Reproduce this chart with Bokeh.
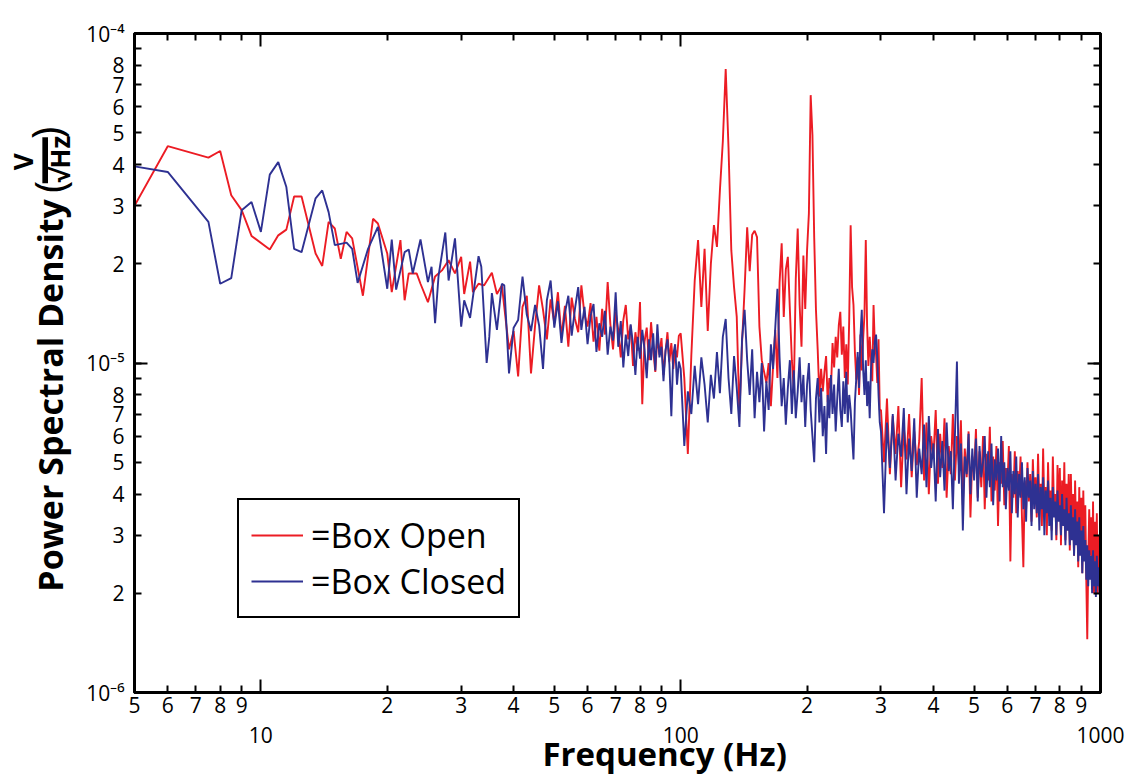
from math import pi

from bokeh.plotting import figure
from bokeh.layouts import row
from bokeh.core.properties import value
from bokeh.models import (ColumnDataSource, FixedTicker, CustomJSTickFormatter,
                          LogAxis, Legend, LegendItem)
from bokeh.embed import file_html
from bokeh.resources import INLINE

# Amplitude spectral density of the sensor output, in µV/√Hz,
# with the enclosure open and with it closed.

# ---- 5 to 39 Hz (fine resolution) ----
open_low_hz = [5.0, 6.0, 7.5, 8.0, 8.5, 9.0, 9.5, 10.5, 11.0, 11.5,
               12.0, 12.5, 13.5, 14.0, 14.5, 15.0, 15.5, 16.0, 16.5, 17.5,
               18.5, 19.0, 20.0, 20.5, 21.5, 22.0, 22.5, 23.5, 24.0, 25.0,
               26.0, 27.0, 28.0, 29.0, 30.0, 30.5, 31.5, 32.0, 33.0, 34.0,
               35.5, 36.5, 37.5, 38.0, 39.0]
open_low_uv = [30.0, 45.5, 42.0, 44.0, 32.3, 29.1, 24.3, 22.1, 24.4, 25.4,
               32.0, 32.0, 21.5, 19.7, 26.8, 25.6, 20.7, 25.0, 23.9, 16.0,
               27.4, 26.5, 21.5, 16.4, 23.6, 15.5, 18.7, 18.7, 17.4, 15.3,
               18.3, 19.1, 20.5, 18.7, 21.0, 16.2, 20.3, 16.4, 17.4, 17.2,
               18.8, 16.2, 17.2, 14.8, 11.0]

closed_low_hz = [5.0, 6.0, 7.5, 8.0, 8.5, 9.0, 9.5, 10.0, 10.5, 11.0,
                 11.5, 12.0, 12.5, 13.5, 14.0, 14.5, 15.0, 16.0, 16.5, 17.0,
                 18.0, 19.0, 20.0, 20.5, 21.0, 22.0, 22.5, 23.0, 24.0, 25.0,
                 25.5, 26.0, 26.5, 27.5, 28.0, 29.0, 30.0, 30.5, 31.5, 33.0,
                 33.5, 34.5, 35.0, 35.5, 36.5, 37.5, 38.0, 39.0]
closed_low_uv = [39.5, 38.0, 26.8, 17.4, 18.1, 29.1, 30.8, 25.0, 37.3, 40.7,
                 34.2, 22.2, 21.7, 31.6, 33.4, 28.7, 22.8, 23.2, 22.2, 17.5,
                 22.2, 25.9, 16.8, 23.7, 16.7, 21.7, 22.1, 18.7, 23.7, 17.6,
                 19.6, 13.2, 18.4, 24.9, 17.8, 23.9, 12.9, 15.5, 13.7, 21.1,
                 19.6, 10.0, 12.0, 16.3, 12.6, 17.4, 17.2, 9.3]

# ---- 40 to 99 Hz, 1 Hz bins ----
mid_hz = list(range(40, 100))
open_mid_uv = [12.5, 9.1, 14.8, 16.0, 9.3, 13.0, 17.2, 14.5, 11.8, 15.6,
               13.2, 16.4, 12.0, 14.9, 11.2, 15.8, 13.6, 12.4, 17.2, 14.0,
               12.9, 15.2, 11.6, 13.8, 10.9, 14.6, 12.2, 17.6, 13.1, 11.0,
               14.3, 12.6, 10.4, 13.5, 15.0, 11.8, 13.0, 9.8, 12.4, 10.9,
               15.3, 7.5, 11.6, 12.8, 10.2, 13.3, 11.0, 9.4, 12.1, 10.6,
               11.9, 9.2, 10.8, 12.4, 10.1, 11.5, 9.6, 11.0, 10.4, 12.1]
closed_mid_uv = [12.8, 13.5, 18.3, 14.0, 12.5, 15.0, 13.0, 9.6, 15.5, 17.8,
                 12.8, 15.4, 11.5, 14.2, 16.0, 12.1, 14.6, 17.0, 12.6, 14.8,
                 11.4, 13.9, 15.1, 10.8, 13.2, 12.0, 14.4, 10.6, 12.9, 11.7,
                 16.4, 11.2, 13.4, 9.7, 12.2, 10.5, 13.1, 11.4, 9.2, 12.0,
                 10.3, 12.6, 11.0, 9.0, 11.8, 10.2, 12.3, 9.5, 13.1, 10.4,
                 11.2, 8.8, 10.9, 11.8, 9.9, 6.9, 10.6, 11.4, 8.6, 10.1]

# ---- 100 to 298 Hz, 2 Hz bins ----
band_hz = list(range(100, 300, 2))
open_band_uv = [12.3, 9.0, 5.3, 10.5, 17.8, 23.6, 14.8, 22.2, 12.5, 20.0,
                26.2, 22.5, 33.4, 47.0, 78.0, 45.0, 22.0, 17.0, 13.8, 7.0,
                11.5, 16.8, 25.8, 19.0, 24.5, 25.2, 24.1, 12.9, 10.2, 9.4,
                8.7, 10.0, 7.4, 9.8, 12.6, 9.0, 17.5, 23.1, 13.8, 19.2,
                21.0, 14.5, 10.2, 8.3, 18.0, 25.6, 15.0, 11.2, 21.2, 14.6,
                22.0, 28.4, 65.0, 49.0, 24.0, 14.5, 11.0, 7.9, 9.6, 8.2,
                9.4, 10.5, 7.6, 9.0, 8.3, 11.5, 9.7, 12.0, 10.4, 13.0,
                14.3, 10.6, 12.9, 9.0, 11.4, 8.6, 13.5, 26.2, 17.0, 15.0,
                10.8, 8.9, 10.4, 8.0, 12.2, 9.5, 11.8, 14.0, 23.6, 13.0,
                9.8, 12.0, 10.2, 8.8, 15.0, 11.4, 10.6, 8.7, 11.8, 7.2]
closed_band_uv = [9.6, 5.6, 8.2, 7.0, 9.8, 7.5, 10.4, 8.6, 6.6, 9.2,
                  7.8, 10.8, 8.1, 12.0, 13.6, 9.0, 7.0, 10.5, 8.4, 6.4,
                  11.8, 14.5, 10.2, 8.0, 11.0, 6.8, 9.4, 7.6, 10.0, 6.2,
                  8.8, 7.2, 11.4, 9.6, 12.8, 16.8, 10.4, 7.4, 9.0, 6.5,
                  8.4, 10.2, 7.0, 9.5, 6.8, 8.2, 10.4, 7.6, 9.2, 6.4,
                  8.6, 10.0, 7.2, 6.0, 5.0, 7.8, 9.0, 6.6, 8.4, 6.0,
                  7.4, 5.3, 8.0, 6.8, 9.2, 7.0, 8.6, 6.2, 7.8, 9.6,
                  7.2, 6.4, 8.8, 7.0, 9.4, 6.6, 8.0, 7.2, 6.0, 5.1,
                  7.6, 9.0, 10.8, 8.4, 12.0, 14.5, 9.6, 8.0, 10.2, 7.4,
                  8.8, 6.8, 9.6, 11.0, 10.0, 11.6, 12.2, 10.4, 8.0, 6.6]

# ---- 300 to 1000 Hz, 5 Hz bins ----
high_hz = list(range(300, 1001, 5))
open_high_uv = [7.2, 5.0, 7.8, 4.6, 6.9, 5.3, 7.4, 4.2, 6.4, 5.1,
                7.0, 4.5, 6.2, 4.9, 5.8, 9.0, 4.4, 6.6, 4.0, 6.0,
                5.2, 7.2, 4.3, 6.1, 4.8, 6.8, 3.9, 5.6, 4.6, 7.0,
                4.4, 6.0, 4.9, 6.7, 3.7, 5.5, 4.5, 6.2, 3.4, 5.2,
                4.6, 6.3, 3.9, 5.4, 4.2, 6.0, 3.6, 5.3, 4.4, 6.4,
                3.8, 5.2, 4.1, 5.6, 3.2, 5.0, 4.3, 5.8, 3.7, 4.8,
                4.2, 5.6, 2.5, 4.6, 3.9, 5.4, 3.5, 4.7, 4.0, 5.2,
                3.4, 2.4, 4.4, 3.6, 5.0, 3.8, 4.6, 3.3, 5.1, 3.9,
                4.5, 3.4, 5.3, 3.7, 4.3, 3.2, 5.5, 3.6, 4.2, 3.0,
                5.0, 3.5, 4.1, 3.1, 5.2, 3.6, 4.0, 2.9, 4.9, 3.4,
                4.8, 2.8, 4.4, 3.3, 5.0, 2.9, 4.3, 3.2, 4.6, 2.7,
                4.6, 3.1, 4.0, 2.6, 4.4, 2.9, 3.8, 2.4, 4.2, 2.7,
                3.9, 2.3, 4.1, 2.6, 3.7, 2.2, 1.45, 2.5, 3.6, 2.6,
                3.4, 2.2, 3.8, 2.0, 3.3, 2.3, 3.5, 2.0, 3.0, 2.1,
                3.0]
closed_high_uv = [6.2, 3.5, 6.6, 4.8, 7.0, 4.4, 6.1, 5.2, 7.3, 4.0,
                  5.9, 4.7, 6.8, 3.9, 5.5, 4.6, 6.5, 4.2, 6.9, 4.8,
                  5.7, 3.8, 6.3, 4.5, 5.8, 4.1, 6.6, 4.7, 5.4, 3.6,
                  6.0, 10.1, 4.3, 5.7, 3.1, 5.2, 4.6, 6.1, 4.0, 5.5,
                  4.4, 5.9, 3.8, 5.6, 4.5, 5.0, 6.0, 3.9, 5.4, 4.2,
                  5.7, 3.7, 5.1, 4.4, 5.5, 3.8, 6.0, 4.2, 5.0, 3.6,
                  4.8, 4.1, 5.4, 3.5, 4.7, 4.0, 5.2, 3.4, 4.6, 3.9,
                  5.0, 3.6, 4.5, 3.3, 4.8, 3.9, 4.4, 3.2, 4.7, 3.6,
                  4.3, 3.5, 4.6, 3.1, 4.2, 3.6, 4.5, 3.0, 4.1, 3.5,
                  4.4, 3.2, 3.9, 2.9, 4.2, 3.4, 3.8, 3.0, 4.1, 3.3,
                  3.7, 3.0, 4.0, 3.2, 3.6, 2.8, 3.9, 3.1, 3.5, 2.8,
                  3.7, 2.9, 3.4, 2.6, 3.6, 2.8, 3.3, 2.5, 3.4, 2.6,
                  3.1, 2.3, 3.2, 2.5, 2.9, 2.2, 2.8, 2.1, 2.7, 2.2,
                  2.6, 2.0, 2.7, 2.1, 2.5, 1.95, 2.6, 2.1, 2.4, 2.0,
                  2.3]

# ---- axis ticks ----
x_digit_ticks = [5, 6, 7, 8, 9, 20, 30, 40, 50, 60, 70, 80, 90,
                 200, 300, 400, 500, 600, 700, 800, 900]
x_decade_ticks = [10, 100, 1000]
y_ticks = [1e-6, 2e-6, 3e-6, 4e-6, 5e-6, 6e-6, 7e-6, 8e-6, 9e-6,
           1e-5, 2e-5, 3e-5, 4e-5, 5e-5, 6e-5, 7e-5, 8e-5, 9e-5, 1e-4]
y_decade_ticks = [1e-6, 1e-5, 1e-4]

series_labels = ["=Box Open", "=Box Closed"]
OPEN_COLOR = "#EC1C24"
CLOSED_COLOR = "#2E3192"
FONT = "Open Sans"

open_src = ColumnDataSource(dict(
    hz=open_low_hz + mid_hz + band_hz + high_hz,
    psd=[v * 1e-6 for v in open_low_uv + open_mid_uv + open_band_uv + open_high_uv],
))
closed_src = ColumnDataSource(dict(
    hz=closed_low_hz + mid_hz + band_hz + high_hz,
    psd=[v * 1e-6 for v in closed_low_uv + closed_mid_uv + closed_band_uv + closed_high_uv],
))

# ---------------- main spectrum plot ----------------
TITLE_W = 78
p = figure(frame_width=966, frame_height=659,
           x_axis_type="log", y_axis_type="log",
           x_range=(5, 1000), y_range=(1e-6, 1e-4),
           min_border_left=134 - TITLE_W, min_border_right=26,
           min_border_top=33, min_border_bottom=20,
           output_backend="svg", toolbar_location=None)
p.background_fill_color = "white"
p.border_fill_color = "white"
p.outline_line_color = "black"
p.outline_line_width = 3
p.xgrid.visible = False
p.ygrid.visible = False

r_open = p.line("hz", "psd", source=open_src, line_color=OPEN_COLOR, line_width=1.9)
r_closed = p.line("hz", "psd", source=closed_src, line_color=CLOSED_COLOR, line_width=1.9)

digit_fmt = CustomJSTickFormatter(code="""
const e = Math.floor(Math.log10(tick) + 1e-6);
return String(Math.round(tick / Math.pow(10, e)));
""")
blank_fmt = CustomJSTickFormatter(code="return '';")
y_fmt = CustomJSTickFormatter(code="""
const e = Math.floor(Math.log10(tick) + 1e-6);
const m = Math.round(tick / Math.pow(10, e));
const sup = {"-4": "\u207b\u2074", "-5": "\u207b\u2075", "-6": "\u207b\u2076"};
if (m === 1) { return "10" + sup[String(e)]; }
if (m === 9) { return ""; }
return String(m);
""")


def style_ticks(ax):
    ax.axis_line_color = "black"
    ax.axis_line_width = 3
    ax.major_tick_in = 7
    ax.major_tick_out = 0
    ax.minor_tick_in = 13
    ax.minor_tick_out = 0
    ax.major_tick_line_width = 2
    ax.minor_tick_line_width = 2
    ax.major_tick_line_color = "black"
    ax.minor_tick_line_color = "black"
    ax.major_label_text_font = FONT
    ax.major_label_text_font_size = "21px"
    ax.major_label_text_color = "black"


# bottom axis: digit labels, long ticks at decades
xa = p.xaxis[0]
xa.ticker = FixedTicker(ticks=x_digit_ticks, minor_ticks=x_decade_ticks)
xa.formatter = digit_fmt
style_ticks(xa)
xa.major_label_standoff = 4

# second row below: decade labels and the axis title
dec_axis = LogAxis(ticker=FixedTicker(ticks=x_decade_ticks, minor_ticks=[]),
                   formatter=CustomJSTickFormatter(code="return tick.toFixed(0);"))
dec_axis.axis_line_color = None
dec_axis.major_tick_line_color = None
dec_axis.minor_tick_line_color = None
dec_axis.major_label_standoff = 5
dec_axis.major_label_text_font = FONT
dec_axis.major_label_text_font_size = "21px"
dec_axis.major_label_text_color = "black"
dec_axis.axis_label = "\u00a0" * 11 + "Frequency (Hz)"
dec_axis.axis_label_text_font = FONT
dec_axis.axis_label_text_font_size = "33px"
dec_axis.axis_label_text_font_style = "bold"
dec_axis.axis_label_text_color = "black"
dec_axis.axis_label_standoff = -15
p.add_layout(dec_axis, "below")

# left axis
ya = p.yaxis[0]
ya.ticker = FixedTicker(ticks=y_ticks, minor_ticks=y_decade_ticks)
ya.formatter = y_fmt
style_ticks(ya)
ya.major_label_standoff = 10

# top and right: ticks only
top_axis = LogAxis(ticker=FixedTicker(ticks=x_digit_ticks, minor_ticks=x_decade_ticks),
                   formatter=blank_fmt)
style_ticks(top_axis)
top_axis.major_label_standoff = 0
top_axis.major_label_text_font_size = "1px"
p.add_layout(top_axis, "above")

right_axis = LogAxis(ticker=FixedTicker(ticks=y_ticks, minor_ticks=y_decade_ticks),
                     formatter=blank_fmt)
style_ticks(right_axis)
right_axis.major_label_standoff = 0
right_axis.major_label_text_font_size = "1px"
p.add_layout(right_axis, "right")

legend = Legend(items=[LegendItem(label=series_labels[0], renderers=[r_open]),
                       LegendItem(label=series_labels[1], renderers=[r_closed])],
                location=(103, 74))
legend.border_line_color = "black"
legend.border_line_width = 2
legend.border_line_alpha = 1.0
legend.background_fill_color = "white"
legend.background_fill_alpha = 1.0
legend.label_text_font = FONT
legend.label_text_font_size = "34px"
legend.label_text_color = "black"
legend.glyph_width = 52
legend.glyph_height = 38
legend.label_height = 38
legend.label_standoff = 8
legend.spacing = -8
legend.padding = 12
legend.margin = 0
p.add_layout(legend)

# ---------------- y-axis title strip (V/√Hz written as a fraction) ----------------
t = figure(width=TITLE_W, height=692, x_range=(0, TITLE_W), y_range=(0, 692),
           min_border=0, output_backend="svg", toolbar_location=None)
t.axis.visible = False
t.grid.visible = False
t.outline_line_color = None
t.background_fill_color = "white"
t.border_fill_color = "white"

title_bits = [
    # x, y (pixels in the strip, y from its bottom), text, size, weight, align
    (49, 492, "Power Spectral Density", "34px", "bold", "right"),
    (48, 507, "(", "42px", "normal", "center"),
    (22, 537, "V", "26px", "bold", "center"),
    (39, 539, "\u2014", "50px", "bold", "center"),
    (59, 540, "\u221aHz", "26px", "bold", "center"),
    (45, 572, ")", "42px", "normal", "center"),
]
for bx, by, txt, size, weight, align in title_bits:
    t.text(x=[bx], y=[by], text=[txt], angle=pi / 2,
           text_font=value(FONT), text_font_size=value(size),
           text_font_style=weight, text_align=align,
           text_baseline="middle", text_color="black")

layout = row(t, p)

with open("out.html", "w", encoding="utf-8") as fh:
    fh.write(file_html(layout, INLINE))
